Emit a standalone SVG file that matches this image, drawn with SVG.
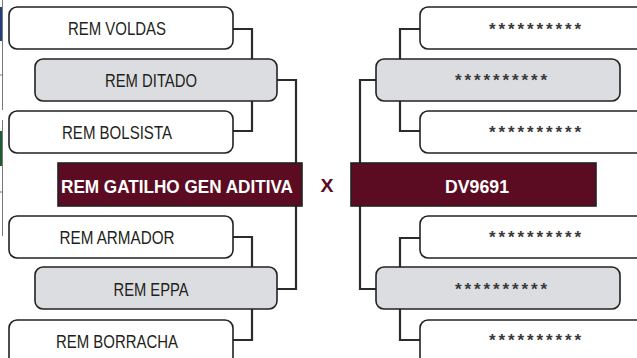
<svg xmlns="http://www.w3.org/2000/svg" width="637" height="358" viewBox="0 0 637 358">
<style>
.box{fill:#ffffff;stroke:#222222;stroke-width:1.6}
.sel{fill:#dcdde0;stroke:#222222;stroke-width:1.6}
.main{fill:#5c0c22;stroke:#222222;stroke-width:1.6}
.lbl{font-family:"Liberation Sans",Arial,sans-serif;font-size:18px;fill:#231f20;text-anchor:middle}
.star{font-family:"Liberation Sans",Arial,sans-serif;font-size:17px;font-weight:bold;fill:#3a3a3a;text-anchor:middle}
.big{font-family:"Liberation Sans",Arial,sans-serif;font-size:19px;font-weight:bold;fill:#ffffff;text-anchor:middle}
.x{font-family:"Liberation Sans",Arial,sans-serif;font-size:19px;font-weight:bold;fill:#5c0c22;text-anchor:middle}
.con{fill:none;stroke:#2b2b2b;stroke-width:2.2}
</style>
<g id="edge">
<rect x="0" y="7" width="2" height="34" fill="#1f3e7a"/>
<rect x="0" y="131" width="2" height="35" fill="#1e5a32"/>
<line x1="2.5" y1="0" x2="2.5" y2="110" stroke="#777" stroke-width="1"/>
<line x1="0" y1="75" x2="3" y2="75" stroke="#777" stroke-width="1"/>
<line x1="2.5" y1="120" x2="2.5" y2="236" stroke="#777" stroke-width="1"/>
<line x1="0" y1="192" x2="3" y2="192" stroke="#777" stroke-width="1"/>
</g>
<g id="connectors">
<path class="con" d="M233 29H252V59"/>
<path class="con" d="M233 131H252V101"/>
<path class="con" d="M277 80H296V163"/>
<path class="con" d="M233 237H252V267"/>
<path class="con" d="M233 340H252V309"/>
<path class="con" d="M277 289H296V206"/>
<path class="con" d="M420 29H400V59"/>
<path class="con" d="M420 131H400V101"/>
<path class="con" d="M376 80H360V163"/>
<path class="con" d="M420 238H400V267"/>
<path class="con" d="M420 340H400V309"/>
<path class="con" d="M376 289H360V206"/>
</g>
<g id="rem-voldas"><rect class="box" x="9" y="7" width="224" height="42" rx="8"/><text class="lbl" x="117" y="35" textLength="98" lengthAdjust="spacingAndGlyphs">REM VOLDAS</text></g>
<g id="rem-ditado"><rect class="sel" x="35" y="59" width="242" height="42" rx="8"/><text class="lbl" x="151" y="87" textLength="92" lengthAdjust="spacingAndGlyphs">REM DITADO</text></g>
<g id="rem-bolsista"><rect class="box" x="9" y="111" width="224" height="42" rx="8"/><text class="lbl" x="117" y="139" textLength="110" lengthAdjust="spacingAndGlyphs">REM BOLSISTA</text></g>
<g id="rem-gatilho"><rect class="main" x="58" y="163" width="244" height="43"/><text class="big" x="177" y="193" textLength="232" lengthAdjust="spacingAndGlyphs">REM GATILHO GEN ADITIVA</text></g>
<g id="rem-armador"><rect class="box" x="9" y="216" width="224" height="42" rx="8"/><text class="lbl" x="117" y="244" textLength="115" lengthAdjust="spacingAndGlyphs">REM ARMADOR</text></g>
<g id="rem-eppa"><rect class="sel" x="35" y="267" width="242" height="42" rx="8"/><text class="lbl" x="151" y="296" textLength="75" lengthAdjust="spacingAndGlyphs">REM EPPA</text></g>
<g id="rem-borracha"><rect class="box" x="9" y="320" width="224" height="50" rx="8"/><text class="lbl" x="117" y="348" textLength="122" lengthAdjust="spacingAndGlyphs">REM BORRACHA</text></g>
<g id="versus"><text class="x" x="327" y="192" textLength="13" lengthAdjust="spacingAndGlyphs">X</text></g>
<g id="r1"><rect class="box" x="420" y="7" width="230" height="42" rx="8"/><text class="star" x="535" y="34.5" textLength="92" lengthAdjust="spacing">**********</text></g>
<g id="r2"><rect class="sel" x="376" y="59" width="244" height="42" rx="8"/><text class="star" x="501" y="86" textLength="92" lengthAdjust="spacing">**********</text></g>
<g id="r3"><rect class="box" x="420" y="111" width="230" height="42" rx="8"/><text class="star" x="535" y="137.5" textLength="92" lengthAdjust="spacing">**********</text></g>
<g id="dv9691"><rect class="main" x="351" y="163" width="245" height="43"/><text class="big" x="477" y="193" textLength="64" lengthAdjust="spacingAndGlyphs">DV9691</text></g>
<g id="r5"><rect class="box" x="420" y="216" width="230" height="42" rx="8"/><text class="star" x="535" y="242.5" textLength="92" lengthAdjust="spacing">**********</text></g>
<g id="r6"><rect class="sel" x="376" y="267" width="244" height="42" rx="8"/><text class="star" x="501" y="294.5" textLength="92" lengthAdjust="spacing">**********</text></g>
<g id="r7"><rect class="box" x="420" y="320" width="230" height="50" rx="8"/><text class="star" x="535" y="345.5" textLength="92" lengthAdjust="spacing">**********</text></g>
</svg>
